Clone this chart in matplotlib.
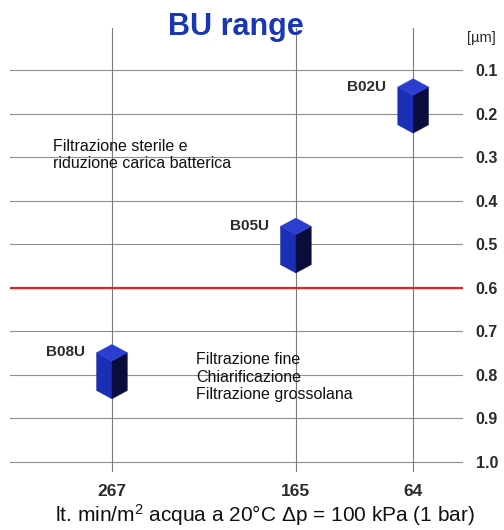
import matplotlib
matplotlib.use("Agg")
import matplotlib.pyplot as plt
from matplotlib.patches import Polygon

plt.rcParams["font.family"] = ["Liberation Sans", "DejaVu Sans"]
plt.rcParams["mathtext.fontset"] = "custom"
plt.rcParams["mathtext.rm"] = "Liberation Sans"
plt.rcParams["mathtext.it"] = "Liberation Sans:italic"

# --- data ------------------------------------------------------------------
cartridges = ["B08U", "B05U", "B02U"]
flow_labels = ["267", "165", "64"]          # lt. min/m2 water at 20 C, 1 bar
pore_top = [0.73, 0.44, 0.12]               # um, upper apex of the prism
pore_bottom = [0.855, 0.566, 0.245]         # um, lower apex of the prism
pore_ticks = [0.1, 0.2, 0.3, 0.4, 0.5, 0.6, 0.7, 0.8, 0.9, 1.0]
sterile_cutoff = 0.6

note_sterile = "Filtrazione sterile e\nriduzione carica batterica"
note_coarse = "Filtrazione fine\nChiarificazione\nFiltrazione grossolana"

# --- layout ----------------------------------------------------------------
x_pos = [0.225, 0.631, 0.890]   # column positions (non uniform, as in the sheet)
HALF_W = 0.034                  # prism half width (axes x units)
CAP_H = 0.019                   # height of the top/bottom diamond half (um)
FACE_LEFT = "#1b2fb4"
FACE_RIGHT = "#0a0d3c"
FACE_TOP = "#2a3fd0"
TEXT_DARK = "#2b2b2b"


def draw_prism(ax, xc, top, bot):
    w, h = HALF_W, CAP_H
    top_face = [(xc, top), (xc - w, top + h), (xc, top + 2 * h), (xc + w, top + h)]
    left_face = [(xc - w, top + h), (xc, top + 2 * h), (xc, bot), (xc - w, bot - h)]
    right_face = [(xc, top + 2 * h), (xc + w, top + h), (xc + w, bot - h), (xc, bot)]
    for pts, col in [(left_face, FACE_LEFT), (right_face, FACE_RIGHT), (top_face, FACE_TOP)]:
        ax.add_patch(Polygon(pts, closed=True, facecolor=col, edgecolor=col,
                             lw=0.3, zorder=5))


fig = plt.figure(figsize=(5.04, 5.30), dpi=100)
ax = fig.add_axes([10 / 504, 58 / 530, 453 / 504, 444 / 530])
ax.set_xlim(0, 1)
ax.set_ylim(1.023, 0.0036)

for s in ax.spines.values():
    s.set_visible(False)

# grid
for v in pore_ticks:
    ax.axhline(v, color="#8f8f8f", lw=0.8, zorder=1)
for x in x_pos:
    ax.axvline(x, color="#7a7a7a", lw=0.8, zorder=1)
ax.axhline(sterile_cutoff, color="#dc2626", lw=1.6, zorder=2)

# ticks: pore size on the right, flow rates at the bottom
ax.yaxis.tick_right()
ax.set_yticks(pore_ticks)
ax.set_yticklabels([f"{v:.1f}" for v in pore_ticks], fontsize=11.5,
                   fontweight="bold", color=TEXT_DARK)
ax.tick_params(axis="y", length=0, pad=9)
ax.set_xticks(x_pos)
ax.set_xticklabels(flow_labels, fontsize=12.5, fontweight="bold", color=TEXT_DARK)
ax.tick_params(axis="x", length=0, pad=9)

ax.text(1.009, 0.027, "[µm]", fontsize=10.5, color=TEXT_DARK,
        ha="left", va="center", clip_on=False)

# prisms + labels
for name, xc, top, bot in zip(cartridges, x_pos, pore_top, pore_bottom):
    draw_prism(ax, xc, top, bot)
    ax.text(xc - HALF_W - 0.025, top + 0.018, name, fontsize=11,
            fontweight="bold", color=TEXT_DARK, ha="right", va="center",
            zorder=6)

ax.text(0.095, 0.258, note_sterile, fontsize=11.5, color="#111111",
        ha="left", va="top", linespacing=1.2, zorder=6)
ax.text(0.411, 0.748, note_coarse, fontsize=11.5, color="#111111",
        ha="left", va="top", linespacing=1.2, zorder=6)

fig.text(236 / 504, 1 - 27 / 530, "BU range", fontsize=22, fontweight="bold",
         color="#1a36b2", ha="center", va="center")
fig.text(265 / 504, 1 - 515 / 530,
         r"lt. min/m$^2$ acqua a 20°C Δp = 100 kPa (1 bar)",
         fontsize=15, color="#111111", ha="center", va="center")

fig.savefig("out.png", dpi=100)
